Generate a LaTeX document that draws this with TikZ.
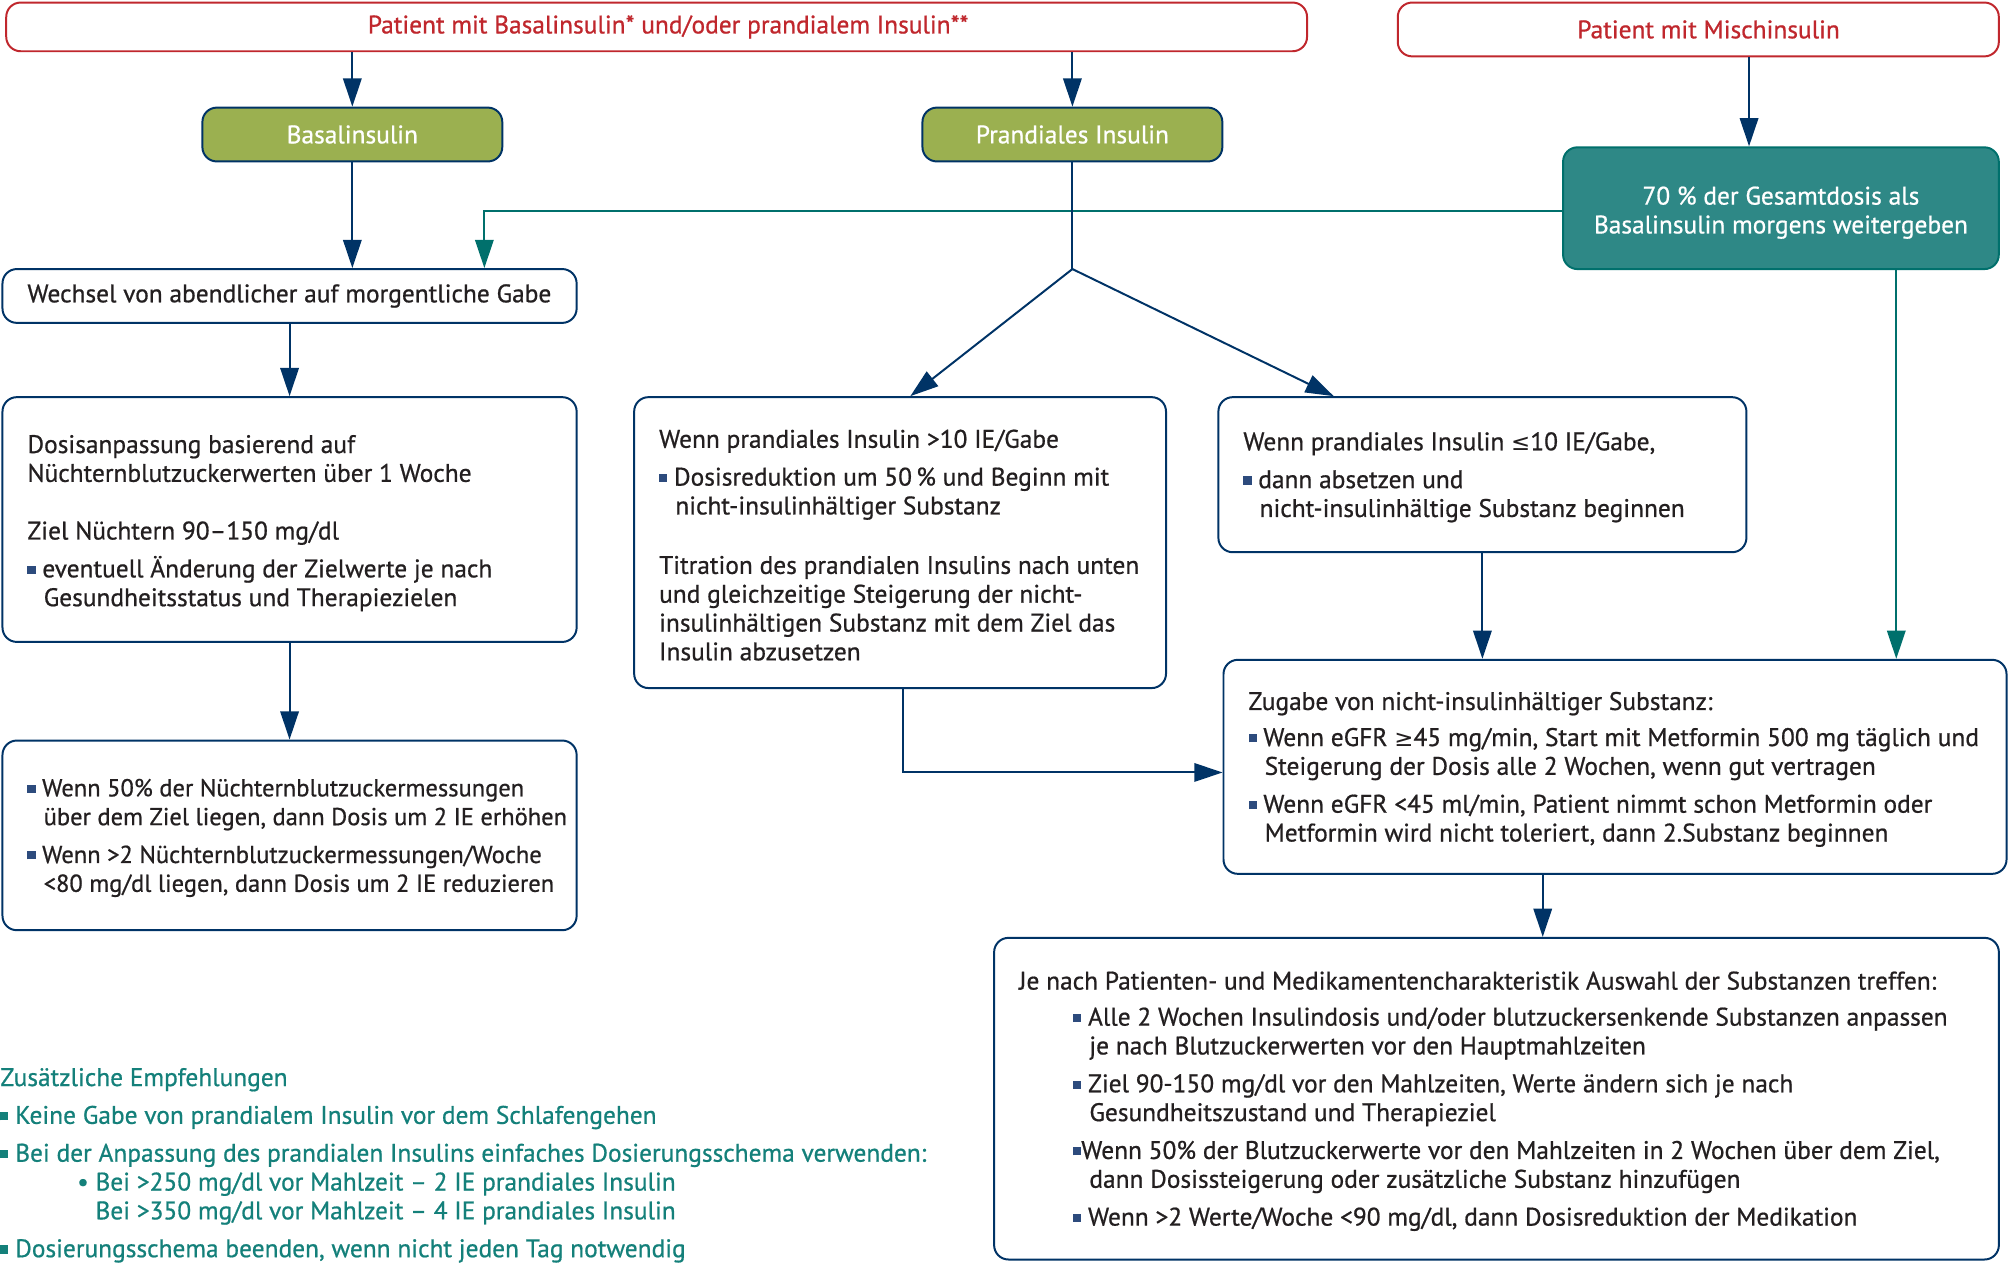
\documentclass[tikz,border=0pt]{standalone}
\usepackage{fontspec}
\setmainfont{PT Sans}[FakeBold=0.7]
\newfontfamily\symfont{DejaVu Sans}[Scale=0.9]
\usepackage{tikz}
\usetikzlibrary{arrows.meta,calc}

\definecolor{navy}{RGB}{0,51,102}
\definecolor{redline}{RGB}{192,39,45}
\definecolor{olive}{RGB}{155,176,80}
\definecolor{tealfill}{RGB}{46,136,134}
\definecolor{tealline}{RGB}{0,112,108}
\definecolor{tealtext}{RGB}{20,128,122}
\definecolor{sqblue}{RGB}{45,75,125}
\definecolor{txtcol}{RGB}{35,31,32}

\newcommand{\sq}{\textcolor{sqblue}{\rule[2pt]{4.5pt}{4.5pt}}}
\newcommand{\tsq}{\textcolor{tealtext}{\rule[2pt]{4.5pt}{4.5pt}}}
\newcommand{\ind}{\hspace*{9pt}}
\newcommand{\bodyfont}{\fontsize{14.1pt}{16pt}\selectfont}

\begin{document}
\begin{tikzpicture}[x=0.025cm,y=-0.025cm]
    \tikzstyle{box}=[
      draw=navy,
      line width=1.1pt,
      rounded corners=0.28cm,
      fill=white,
      inner sep=0pt,
    ]
    \tikzstyle{redbox}=[
      box,
      draw=redline,
      text=redline,
      font=\bodyfont,
    ]
    \tikzstyle{greenbox}=[
      box,
      fill=olive,
      text=white,
      font=\bodyfont,
      minimum width=5.85cm,
      minimum height=1.05cm,
    ]
    \tikzstyle{tealbox}=[
      box,
      draw=tealline,
      fill=tealfill,
      text=white,
      align=center,
      font=\bodyfont,
    ]
    \tikzstyle{txt}=[
      anchor=west,
      align=left,
      inner sep=0pt,
      text=txtcol,
      font=\bodyfont,
    ]
    \tikzstyle{dedge}=[line width=1.1pt,-{Triangle[length=0.55cm,width=0.36cm]},draw=navy]
    \tikzstyle{tedge}=[dedge,draw=tealline]
    \tikzstyle{pedge}=[line width=1.1pt,draw=navy]

    \useasboundingbox (0,0) rectangle (1568,990);

    {
      \node[redbox, minimum width=25.375cm, minimum height=0.95cm] (n1) at (512.5,21) {\hspace*{0.45cm}Patient mit Basalinsulin* und/oder prandialem Insulin**};
      \node[redbox, minimum width=11.725cm, minimum height=1.05cm] (n2) at (1325.5,23) {\hspace*{0.4cm}Patient mit Mischinsulin};

      \node[greenbox] (n11) at (275,105) {Basalinsulin};
      \node[greenbox] (n12) at (837,105) {Prandiales Insulin};
      \node[tealbox, minimum width=8.5cm, minimum height=2.375cm] (n21) at (1390,162.5) {\rule{0pt}{15pt}70 \% der Gesamtdosis als\\Basalinsulin morgens weitergeben};

      \node[box, minimum width=11.2cm, minimum height=1.05cm] (n111) at (226,231) {};
      \node[box, minimum width=11.2cm, minimum height=4.775cm] (n112) at (226,405.5) {};
      \node[box, minimum width=11.2cm, minimum height=3.7cm] (n113) at (226,652) {};

      \node[box, minimum width=10.375cm, minimum height=5.675cm] (n121) at (702.5,423.5) {};
      \node[box, minimum width=10.3cm, minimum height=3.025cm] (n122) at (1157,370.5) {};

      \node[box, minimum width=15.275cm, minimum height=4.175cm] (n3) at (1260.5,598.5) {};
      \node[box, minimum width=19.6cm, minimum height=6.275cm] (n4) at (1168,857.5) {};
    }

    {
      \node[txt] (t111) at ([xshift=0.5cm]n111.west) {Wechsel von abendlicher auf morgentliche Gabe};
      \node[txt] (t112) at ([xshift=0.5cm,yshift=-0.07cm]n112.west) {Dosisanpassung basierend auf\\Nüchternblutzuckerwerten über 1 Woche\\[16pt]Ziel Nüchtern 90–150 mg/dl\\[5pt]\sq\ eventuell Änderung der Zielwerte je nach\\\ind Gesundheitsstatus und Therapiezielen};
      \node[txt, font=\fontsize{13.6pt}{16pt}\selectfont] (t113) at ([xshift=0.5cm,yshift=-0.05cm]n113.west) {\sq\ Wenn 50\% der Nüchternblutzuckermessungen\\\ind über dem Ziel liegen, dann Dosis um 2 IE erhöhen\\[5pt]\sq\ Wenn >2 Nüchternblutzuckermessungen/Woche\\\ind <80 mg/dl liegen, dann Dosis um 2 IE reduzieren};
      \node[txt] (t121) at ([xshift=0.5cm,yshift=-0.05cm]n121.west) {Wenn prandiales Insulin >10 IE/Gabe\\[5pt]\sq\ Dosisreduktion um 50\,\% und Beginn mit\\\ind nicht-insulinhältiger Substanz\\[17pt]Titration des prandialen Insulins nach unten\\und gleichzeitige Steigerung der nicht-\\insulinhältigen Substanz mit dem Ziel das\\Insulin abzusetzen};
      \node[txt] (t122) at ([xshift=0.5cm,yshift=-0.05cm]n122.west) {Wenn prandiales Insulin {\symfont ≤}10 IE/Gabe,\\[5pt]\sq\ dann absetzen und\\\ind nicht-insulinhältige Substanz beginnen};
      \node[txt] (t3) at ([xshift=0.5cm,yshift=-0.05cm]n3.west) {Zugabe von nicht-insulinhältiger Substanz:\\[4pt]\sq\ Wenn eGFR {\symfont ≥}45 mg/min, Start mit Metformin 500 mg täglich und\\\ind Steigerung der Dosis alle 2 Wochen, wenn gut vertragen\\[5pt]\sq\ Wenn eGFR <45 ml/min, Patient nimmt schon Metformin oder\\\ind Metformin wird nicht toleriert, dann 2.Substanz beginnen};
      \node[txt] (t4) at ([xshift=0.5cm,yshift=-0.05cm]n4.west) {Je nach Patienten- und Medikamentencharakteristik Auswahl der Substanzen treffen:\\[4pt]\hspace*{30pt}\sq\ Alle 2 Wochen Insulindosis und/oder blutzuckersenkende Substanzen anpassen\\\hspace*{39pt}je nach Blutzuckerwerten vor den Hauptmahlzeiten\\[5pt]\hspace*{30pt}\sq\ Ziel 90-150 mg/dl vor den Mahlzeiten, Werte ändern sich je nach\\\hspace*{39pt}Gesundheitszustand und Therapieziel\\[5pt]\hspace*{30pt}\sq Wenn 50\% der Blutzuckerwerte vor den Mahlzeiten in 2 Wochen über dem Ziel,\\\hspace*{39pt}dann Dosissteigerung oder zusätzliche Substanz hinzufügen\\[5pt]\hspace*{30pt}\sq\ Wenn >2 Werte/Woche <90 mg/dl, dann Dosisreduktion der Medikation};
      \node[txt, text=tealtext] (t5) at (0,909.5) {Zusätzliche Empfehlungen\\[5pt]\tsq\ Keine Gabe von prandialem Insulin vor dem Schlafengehen\\[5pt]\tsq\ Bei der Anpassung des prandialen Insulins einfaches Dosierungsschema verwenden:\\\hspace*{1.5cm}\textbullet\ Bei >250 mg/dl vor Mahlzeit – 2 IE prandiales Insulin\\\hspace*{1.5cm}\phantom{\textbullet\ }Bei >350 mg/dl vor Mahlzeit – 4 IE prandiales Insulin\\[5pt]\tsq\ Dosierungsschema beenden, wenn nicht jeden Tag notwendig};
    }

    {
      \coordinate (c2) at ([xshift=0.99cm]n2.south);
      \coordinate (c12) at (837,210);

      \draw[dedge] (n11.north |- n1.south)--(n11.north);
      \draw[dedge] (n12.north |- n1.south)--(n12.north);
      \draw[dedge] (c2)--(c2 |- n21.north);

      \draw[dedge] (n11.south)--(n11.south |- n111.north);
      \draw[tedge] ([yshift=-0.06cm]n21.west) -| ([xshift=3.8cm]n111.north);
      \draw[pedge] (n12.south)--(c12);
      \draw[dedge] (c12)--([xshift=0.2cm]n121.north);
      \draw[dedge] (c12)--([xshift=-2.9cm]n122.north);

      \draw[dedge] (n111.south)--(n112.north);
      \draw[dedge] (n112.south)--(n113.north);
      \draw[dedge] ([xshift=0.06cm]n121.south) |- ([yshift=-0.11cm]n3.west);
      \draw[dedge] (n122.south)--(n122.south |- n3.north);
      \draw[tedge] ([xshift=2.25cm]n21.south)--([xshift=2.25cm]n21.south |- n3.north);
      \draw[dedge] ([xshift=-1.41cm]n3.south)--([xshift=-1.41cm]n3.south |- n4.north);
    }
\end{tikzpicture}
\end{document}
